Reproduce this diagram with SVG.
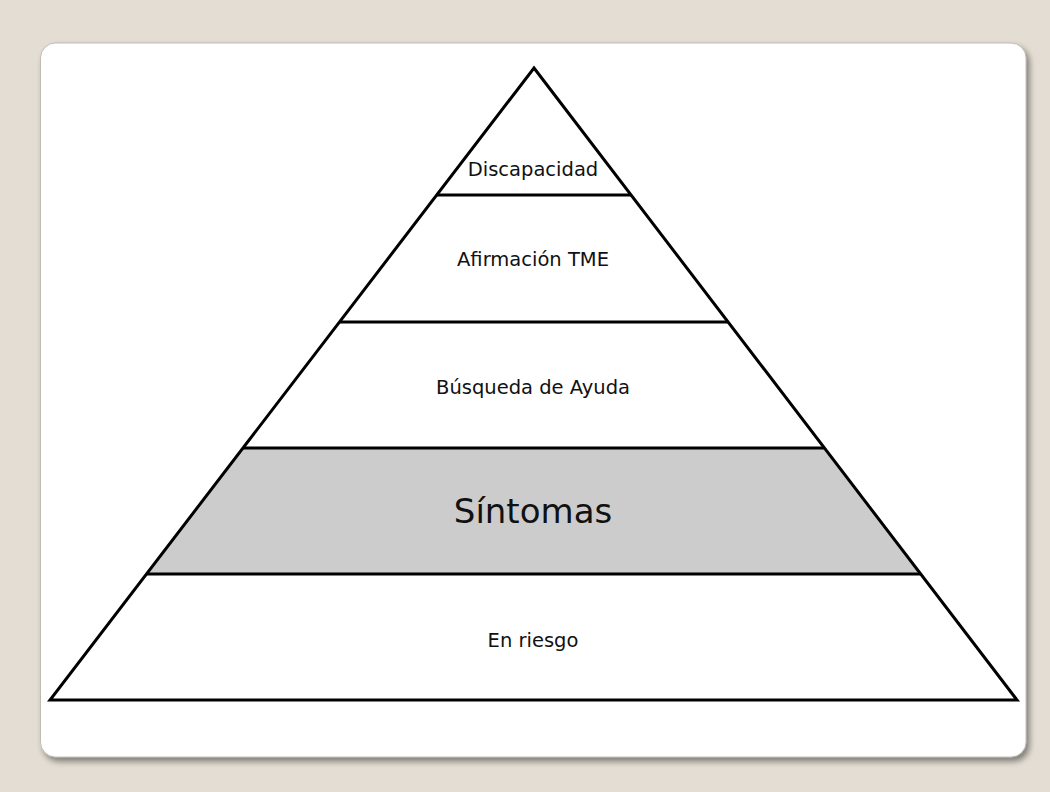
<svg xmlns="http://www.w3.org/2000/svg" width="1050" height="792" viewBox="0 0 1050 792">
  <defs>
    <filter id="cardShadow" x="-5%" y="-5%" width="112%" height="115%">
      <feGaussianBlur in="SourceAlpha" stdDeviation="3"/>
      <feOffset dx="3" dy="4" result="blur"/>
      <feComponentTransfer><feFuncA type="linear" slope="0.45"/></feComponentTransfer>
      <feMerge><feMergeNode/><feMergeNode in="SourceGraphic"/></feMerge>
    </filter>
  </defs>
  <style>
    .edge { stroke: #000; stroke-width: 3; fill: none; stroke-linejoin: miter; }
    .label { font-family: "DejaVu Sans", Verdana, sans-serif; font-size: 19.5px; fill: #111; text-anchor: middle; }
    .big { font-size: 34px; }
  </style>

  <!-- page background -->
  <rect x="0" y="0" width="1050" height="792" fill="#e3ddd3"/>

  <!-- white card -->
  <rect x="40.5" y="43" width="985.5" height="714" rx="15" ry="15" fill="#ffffff" stroke="#b4b0aa" stroke-width="0.8" filter="url(#cardShadow)"/>

  <!-- pyramid tiers -->
  <g id="tier-discapacidad">
    <polygon points="534,68 631.1,195 436.7,195" fill="#ffffff"/>
    <text class="label" x="533" y="176">Discapacidad</text>
  </g>
  <g id="tier-afirmacion">
    <polygon points="436.7,195 631.1,195 728.1,322 339.5,322" fill="#ffffff"/>
    <text class="label" x="533" y="266">Afirmación TME</text>
  </g>
  <g id="tier-busqueda">
    <polygon points="339.5,322 728.1,322 824.4,448 243,448" fill="#ffffff"/>
    <text class="label" x="533" y="394">Búsqueda de Ayuda</text>
  </g>
  <g id="tier-sintomas">
    <polygon points="243,448 824.4,448 920.7,574 146.5,574" fill="#cccccc"/>
    <text class="label big" x="533" y="523">Síntomas</text>
  </g>
  <g id="tier-riesgo">
    <polygon points="146.5,574 920.7,574 1017,700 50,700" fill="#ffffff"/>
    <text class="label" x="533" y="647">En riesgo</text>
  </g>

  <!-- outline and tier dividers -->
  <g id="connectors">
    <polygon class="edge" points="534,68 1017,700 50,700"/>
    <line class="edge" x1="436.7" y1="195" x2="631.1" y2="195"/>
    <line class="edge" x1="339.5" y1="322" x2="728.1" y2="322"/>
    <line class="edge" x1="243" y1="448" x2="824.4" y2="448"/>
    <line class="edge" x1="146.5" y1="574" x2="920.7" y2="574"/>
  </g>
</svg>
